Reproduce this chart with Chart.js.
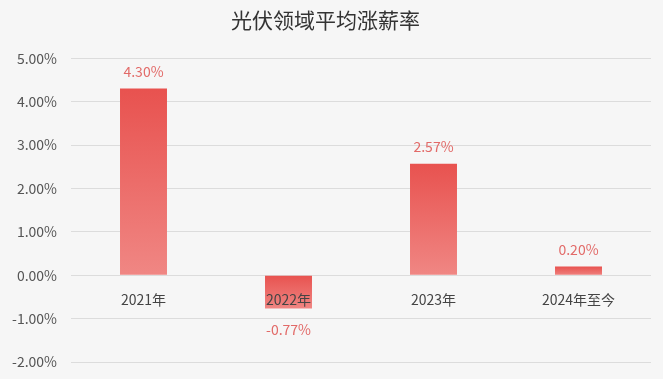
<!DOCTYPE html>
<html>
<head>
<meta charset="utf-8">
<script src="https://cdn.jsdelivr.net/npm/chart.js@4/dist/chart.umd.min.js"></script>
<style>
  html, body { margin: 0; padding: 0; background: #f6f6f6; }
  #wrap { width: 663px; height: 379px; position: relative; }
</style>
</head>
<body>
<div id="wrap"><canvas id="grafico"></canvas></div>
<script>
const categorias = ['2021年', '2022年', '2023年', '2024年至今'];
const valores = [4.30, -0.77, 2.57, 0.20];
const yTicks = [5, 4, 3, 2, 1, 0, -1, -2];

const fuente = '"Noto Sans CJK SC", "Noto Sans", sans-serif';

// etiquetas de valor y de categoria, dibujadas encima de las barras
const etiquetasPlugin = {
    id: 'etiquetas',
    afterDatasetsDraw(chart) {
        const ctx = chart.ctx;
        const meta = chart.getDatasetMeta(0);
        const cero = chart.scales.y.getPixelForValue(0);
        ctx.save();
        ctx.textAlign = 'center';
        ctx.textBaseline = 'middle';
        ctx.font = '14px ' + fuente;
        meta.data.forEach((bar, i) => {
            const v = valores[i];
            ctx.fillStyle = '#e26a68';
            const y = v >= 0 ? bar.y - 17 : bar.y + 21;
            ctx.fillText(v.toFixed(2) + '%', bar.x, y);
            ctx.fillStyle = '#444444';
            ctx.fillText(categorias[i], bar.x, cero + 24);
        });
        ctx.restore();
    }
};

function degradado(context) {
    const chart = context.chart;
    if (!chart.chartArea) return '#e8524f';
    const y = chart.scales.y;
    const v = context.raw;
    const p0 = y.getPixelForValue(0);
    const p1 = y.getPixelForValue(v);
    const arriba = Math.min(p0, p1), abajo = Math.max(p0, p1);
    const g = chart.ctx.createLinearGradient(0, arriba, 0, abajo + 1);
    g.addColorStop(0, '#e8524f');
    g.addColorStop(1, '#f08784');
    return g;
}

new Chart(document.getElementById('grafico'), {
    type: 'bar',
    data: {
        labels: categorias,
        datasets: [{
            data: valores,
            backgroundColor: degradado,
            barPercentage: 0.324,
            categoryPercentage: 1
        }]
    },
    plugins: [etiquetasPlugin],
    options: {
        responsive: true,
        maintainAspectRatio: false,
        animation: false,
        layout: { padding: { left: 0, right: 12, top: 0, bottom: 17 } },
        plugins: {
            legend: { display: false },
            tooltip: { enabled: false },
            title: {
                display: true,
                text: '光伏领域平均涨薪率',
                color: '#333333',
                font: { family: fuente, size: 21, weight: 'normal' },
                padding: { top: 7, bottom: 26 }
            }
        },
        scales: {
            x: {
                display: false
            },
            y: {
                min: -2,
                max: 5,
                afterFit(scale) {
                    scale.width = 71;
                    scale.paddingTop = 9;
                    scale.paddingBottom = 9;
                },
                afterBuildTicks(scale) { scale.ticks = yTicks.map(v => ({ value: v })); },
                grid: { color: '#dcdcdc', drawTicks: false },
                border: { display: false },
                ticks: {
                    color: '#555555',
                    padding: 14,
                    font: { family: fuente, size: 14 },
                    callback: v => v.toFixed(2) + '%'
                }
            }
        }
    }
});
</script>
</body>
</html>
